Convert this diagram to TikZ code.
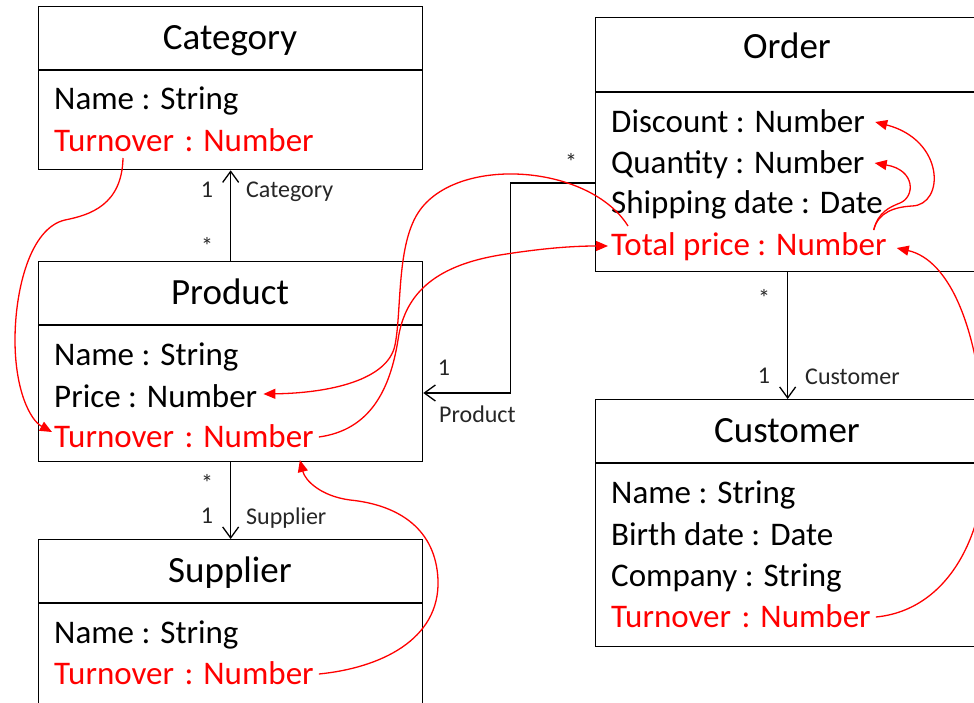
\documentclass[tikz,border=0pt]{standalone}
\usepackage{fontspec}
\setmainfont{Carlito}
\usetikzlibrary{arrows.meta}
\newcommand\attrsize{\fontsize{33}{40}\selectfont}
\newcommand\titlesize{\fontsize{37}{44}\selectfont}
\newcommand\smallsize{\fontsize{24}{28}\selectfont}
\definecolor{dred}{RGB}{255,0,0}
\begin{document}
\begin{tikzpicture}[x=1pt,y=-1pt,
  cls/.style={draw, line width=1.3pt, anchor=north west, inner sep=0pt, minimum width=384pt},
  ttl/.style={anchor=base, inner sep=0pt, font=\titlesize},
  attr/.style={anchor=base west, inner sep=0pt, font=\attrsize},
  der/.style={attr, text=dred},
  lbl/.style={inner sep=0pt, font=\smallsize, text=black!85},
  assoc/.style={line width=1.3pt, -{Straight Barb[length=11pt,width=16pt,line width=1.3pt]}},
  dep/.style={dred, line width=1.3pt, -{Triangle[length=12pt,width=10pt]}}]
\clip (0,0) rectangle (974,703);
\fill[white] (0,0) rectangle (974,703);
% class boxes
\node[cls, minimum height=163pt] (cat) at (38,6) {};
\node[cls, minimum height=200pt] (prod) at (38,261) {};
\node[cls, minimum height=220pt] (sup) at (38,539) {};
\node[cls, minimum height=254pt] (ord) at (595,17) {};
\node[cls, minimum height=247pt] (cust) at (595,399) {};
\draw[line width=1.3pt] ([yshift=-64pt]cat.north west) -- ([yshift=-64pt]cat.north east);
\draw[line width=1.3pt] ([yshift=-64pt]prod.north west) -- ([yshift=-64pt]prod.north east);
\draw[line width=1.3pt] ([yshift=-64pt]sup.north west) -- ([yshift=-64pt]sup.north east);
\draw[line width=1.3pt] ([yshift=-75pt]ord.north west) -- ([yshift=-75pt]ord.north east);
\draw[line width=1.3pt] ([yshift=-64pt]cust.north west) -- ([yshift=-64pt]cust.north east);
% titles
\node[ttl] (catT) at (230,50) {Category};
\node[ttl] (prodT) at (230,304) {Product};
\node[ttl] (supT) at (230,582) {Supplier};
\node[ttl] (ordT) at (787,59) {Order};
\node[ttl] (custT) at (787,442) {Customer};
% attributes
\node[attr] (catName) at (54,110) {Name : String};
\node[der]  (catTurn) at (54,152) {Turnover\hspace{3pt} : Number};
\node[attr] (prName) at (54,365) {Name : String};
\node[attr] (prPrice) at (54,407) {Price : Number};
\node[der]  (prTurn) at (54,447) {Turnover\hspace{3pt} : Number};
\node[attr] (supName) at (54,643) {Name : String};
\node[der]  (supTurn) at (54,684) {Turnover\hspace{3pt} : Number};
\node[attr] (ordDisc) at (611,133) {Discount : Number};
\node[attr] (ordQty) at (611,174) {Quantity : Number};
\node[attr] (ordShip) at (611,214) {Shipping date : Date};
\node[der]  (ordTotal) at (611,256) {Total price : Number};
\node[attr] (cuName) at (611,503) {Name : String};
\node[attr] (cuBirth) at (611,545) {Birth date : Date};
\node[attr] (cuComp) at (611,586) {Company : String};
\node[der]  (cuTurn) at (611,627) {Turnover\hspace{3pt} : Number};
% associations
\draw[assoc] (prod.north) -- (cat.south);
\draw[assoc] (prod.south) -- (sup.north);
\draw[assoc] (ord.south) -- (cust.north);
\draw[assoc] ([yshift=-166pt]ord.north west) -| ([xshift=87pt,yshift=-132pt]prod.north east) -- ([yshift=-132pt]prod.north east);
% multiplicities and roles
\node[lbl] (m1) at (207,190) {1};
\node[lbl] (m2) at (207,246) {*};
\node[lbl, anchor=base west] (r1) at (246,198) {Category};
\node[lbl] (m3) at (207,483) {*};
\node[lbl] (m4) at (207,516) {1};
\node[lbl, anchor=base west] (r2) at (246,524) {Supplier};
\node[lbl] (m5) at (764,298) {*};
\node[lbl] (m6) at (764,376) {1};
\node[lbl, anchor=base west] (r3) at (805,384) {Customer};
\node[lbl] (m7) at (571,162) {*};
\node[lbl] (m8) at (444,368) {1};
\node[lbl, anchor=base west] (r4) at (439,422) {Product};
% derivation curves
\draw[dep] ([shift={(69,6)}]catTurn.base west) .. controls (122,205) and (90,215) .. (65,220)
  .. controls (30,228) and (15,290) .. (15,340) .. controls (15,390) and (30,420) .. ([shift={(-2,-15)}]prTurn.base west);
\draw[dep] ([shift={(17,-30)}]ordTotal.base west) .. controls (590,165) and (460,155) .. (420,210)
  .. controls (396,243) and (402,310) .. (395,345) .. controls (388,380) and (330,393) .. ([shift={(6,-13)}]prPrice.base east);
\draw[dep] ([shift={(5,-10)}]prTurn.base east) .. controls (370,430) and (390,390) .. (398,340)
  .. controls (405,290) and (440,265) .. (500,255) .. controls (550,247) and (580,246) .. ([shift={(-3,-10)}]ordTotal.base west);
\draw[dep] ([shift={(5,-10)}]supTurn.base east) .. controls (380,668) and (440,640) .. (438,580)
  .. controls (436,530) and (400,505) .. (350,500) .. controls (320,496) and (305,480) .. ([shift={(-14,13)}]prTurn.base east);
\draw[dep] ([shift={(-13,-26)}]ordTotal.base east) .. controls (878,212) and (890,207) .. (900,203)
  .. controls (915,197) and (916,170) .. ([shift={(10,-11)}]ordQty.base east);
\draw[dep] ([shift={(-13,-26)}]ordTotal.base east) .. controls (878,212) and (895,207) .. (912,206)
  .. controls (945,205) and (945,140) .. ([shift={(10,-11)}]ordDisc.base east);
\draw[dep] ([shift={(5,-10)}]cuTurn.base east) .. controls (950,610) and (990,530) .. (985,440)
  .. controls (980,330) and (950,260) .. ([shift={(10,-8)}]ordTotal.base east);
\end{tikzpicture}
\end{document}
